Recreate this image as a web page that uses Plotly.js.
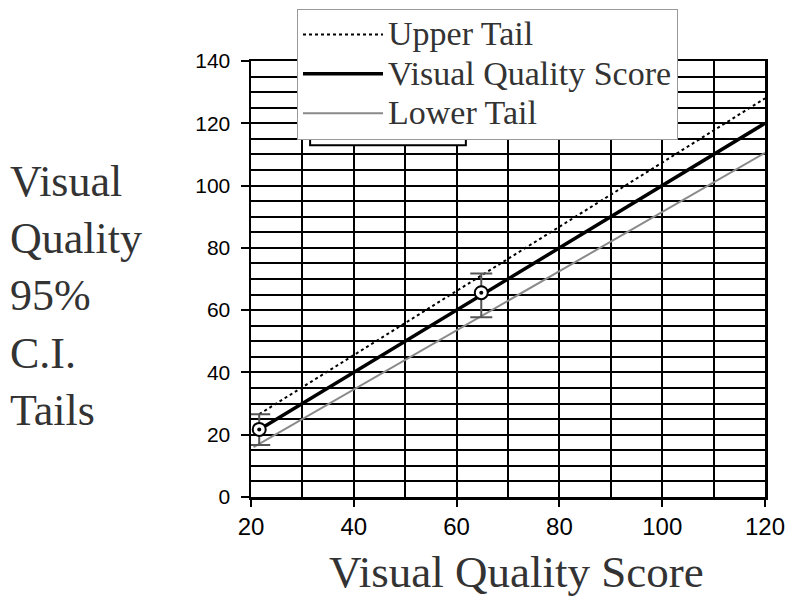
<!DOCTYPE html>
<html><head><meta charset="utf-8">
<script src="https://cdn.plot.ly/plotly-3.0.1.min.js"></script>
<style>html,body{margin:0;padding:0;background:#fff}</style>
</head><body>
<div id="chart" style="width:791px;height:598px"></div>
<script>
// Data
const scoreX = [21, 120];
const scoreY = [21, 120];
const upperX = [21.6, 120];
const upperY = [26.6, 128];
const lowerX = [20.5, 120];
const lowerY = [16, 110.5];
const pointX = [21.6, 64.8];
const pointY = [21.7, 65.6];
const errPlus = [4.9, 6.2];
const errMinus = [5.0, 7.9];
const seriesNames = ['Upper Tail', 'Visual Quality Score', 'Lower Tail'];
const xTickVals = [20, 40, 60, 80, 100, 120];
const yTickVals = [0, 20, 40, 60, 80, 100, 120, 140];

const big = s => '<span style="font-size:34px">' + s + '</span>';

const traces = [
  {x: upperX, y: upperY, mode: 'lines', name: big(seriesNames[0]),
   line: {color: '#000', width: 2, dash: 'dot'}},
  {x: scoreX, y: scoreY, mode: 'lines', name: big(seriesNames[1]),
   line: {color: '#000', width: 3.5}},
  {x: lowerX, y: lowerY, mode: 'lines', name: big(seriesNames[2]),
   line: {color: '#8a8a8a', width: 2}},
  {x: pointX, y: pointY, mode: 'markers', showlegend: false,
   error_y: {type: 'data', symmetric: false, array: errPlus, arrayminus: errMinus,
             color: '#555', thickness: 2, width: 11},
   marker: {symbol: 'circle', size: 13, color: '#fff', line: {color: '#000', width: 2}}},
  {x: pointX, y: pointY, mode: 'markers', showlegend: false,
   marker: {symbol: 'circle', size: 4, color: '#000'}}
];

const layout = {
  width: 791, height: 598,
  margin: {l: 251, r: 26, t: 61, b: 101, autoexpand: false},
  paper_bgcolor: '#fff', plot_bgcolor: '#fff',
  showlegend: true,
  legend: {x: 0.0895, xanchor: 'left', y: 1.12, yanchor: 'top',
           bgcolor: '#fff', bordercolor: '#999', borderwidth: 1,
           font: {family: 'Liberation Serif, Times New Roman, serif', size: 28, color: '#333'},
           itemwidth: 80, tracegroupgap: 0},
  xaxis: {range: [20, 120], tickvals: xTickVals, ticks: 'outside', ticklen: 7, tickwidth: 2,
          tickcolor: '#000', showline: true, linecolor: '#000', linewidth: 2.5, mirror: true,
          showgrid: true, gridcolor: '#000', gridwidth: 2, zeroline: false,
          minor: {dtick: 10, showgrid: true, gridcolor: '#000', gridwidth: 2},
          tickfont: {family: 'Liberation Sans, Arial, sans-serif', size: 24, color: '#000'}},
  yaxis: {range: [0, 140], tickvals: yTickVals, ticks: 'outside', ticklen: 8, tickwidth: 2,
          tickcolor: '#000', showline: true, linecolor: '#000', linewidth: 2.5, mirror: true,
          showgrid: true, gridcolor: '#000', gridwidth: 2, zeroline: false,
          ticklabelstandoff: 6,
          minor: {dtick: 5, showgrid: true, gridcolor: '#000', gridwidth: 2},
          tickfont: {family: 'Liberation Sans, Arial, sans-serif', size: 21, color: '#000'}},
  shapes: [
    {type: 'rect', xref: 'paper', yref: 'paper', x0: 0.115, x1: 0.418, y0: 0.807, y1: 0.87,
     fillcolor: '#fff', line: {color: '#000', width: 2}, layer: 'above'}
  ],
  annotations: [
    {text: 'Visual<br>Quality<br>95%<br>C.I.<br>Tails', xref: 'paper', yref: 'paper',
     x: -0.473, y: 0.461, xanchor: 'left', yanchor: 'middle', align: 'left', showarrow: false,
     font: {family: 'Liberation Serif, Times New Roman, serif', size: 44, color: '#333'}},
    {text: 'Visual Quality Score', xref: 'paper', yref: 'paper',
     x: 0.5175, y: -0.173, xanchor: 'center', yanchor: 'middle', showarrow: false,
     font: {family: 'Liberation Serif, Times New Roman, serif', size: 45, color: '#333'}}
  ]
};

Plotly.newPlot('chart', traces, layout, {displayModeBar: false, staticPlot: true});
</script>
</body></html>
